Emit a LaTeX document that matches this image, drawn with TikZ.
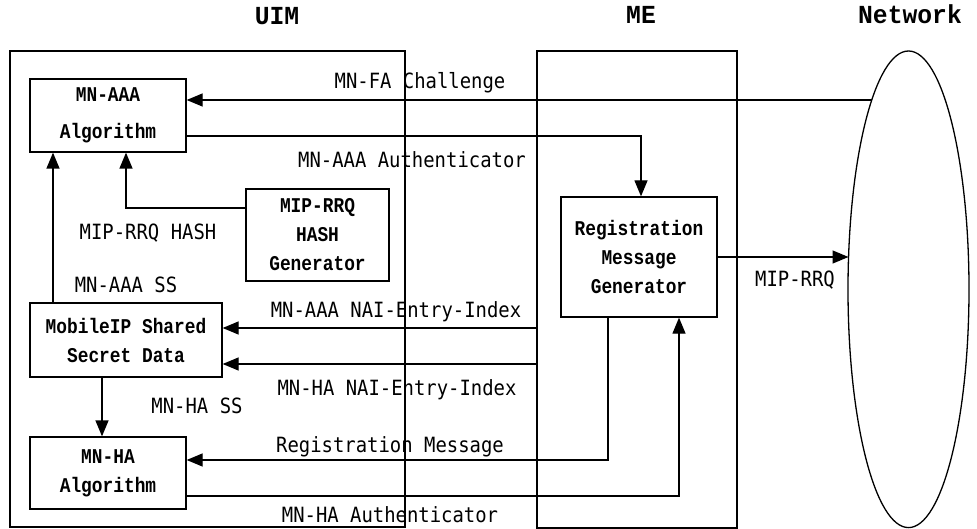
\documentclass[tikz,border=0pt]{standalone}
\usepackage{fontspec}
\newfontfamily\lblfont{DejaVu Sans Mono}[FakeStretch=0.9]
\newfontfamily\boxfont{Liberation Mono}[FakeStretch=0.85]
\newfontfamily\ttlfont{Liberation Mono}[FakeStretch=0.95]
\usetikzlibrary{arrows.meta,shapes.geometric}
\begin{document}
\begin{tikzpicture}[x=1pt,y=-1pt,line width=1.3pt,
  frame/.style={draw,inner sep=0pt,outer sep=0pt},
  box/.style={draw,inner sep=0pt,align=center,font={\boxfont\bfseries\fontsize{21}{29}\selectfont}},
  lbl/.style={anchor=base,inner sep=0pt,font={\lblfont\fontsize{21}{24}\selectfont}},
  ttl/.style={anchor=base,inner sep=0pt,font={\ttlfont\bfseries\fontsize{26}{30}\selectfont}},
  arr/.style={-{Triangle[length=16pt,width=13pt]}}]
\useasboundingbox (0,0) rectangle (977,529);
% titles
\node[ttl] (tuim) at (277,25) {UIM};
\node[ttl] (tme) at (641,24) {ME};
\node[ttl] (tnet) at (910,24) {Network};
% frames
\node[frame,minimum width=395pt,minimum height=476pt] (uim) at (207.5,289) {};
\node[frame,minimum width=200pt,minimum height=477pt] (me) at (637,289.5) {};
\node[frame,ellipse,minimum width=121pt,minimum height=476.6pt] (net) at (908.5,289.3) {};
% boxes
\node[box,minimum width=156pt,minimum height=73pt,font={\boxfont\bfseries\fontsize{21}{37}\selectfont}] (aaa) at (108,115.5) {MN-AAA\\Algorithm};
\node[box,minimum width=143pt,minimum height=92pt] (hash) at (317.5,235) {MIP-RRQ\\HASH\\Generator};
\node[box,minimum width=192pt,minimum height=74pt] (ss) at (126,340) {MobileIP Shared\\Secret Data};
\node[box,minimum width=156pt,minimum height=72pt] (ha) at (108,473) {MN-HA\\Algorithm};
\node[box,minimum width=156pt,minimum height=120pt] (reg) at (639,257) {Registration\\Message\\Generator};
% helper coordinates on the ellipse border
\coordinate (fa) at (871.8,100);
\coordinate (rrq) at (848.5,257);
\coordinate (n1) at ([yshift=12pt]ss.east);
\coordinate (n2) at ([yshift=-24pt]ss.east);
\coordinate (p1) at ([xshift=-73pt]ss.north);
% connectors
\draw[arr] (fa) -- (fa -| aaa.east);
\draw[arr] ([yshift=-20.5pt]aaa.east) -| ([xshift=2pt]reg.north);
\draw[arr] ([yshift=27pt]hash.west) -| ([xshift=18pt]aaa.south);
\draw[arr] (p1) -- (p1 |- aaa.south);
\draw[arr] (me.west |- n1) -- (n1);
\draw[arr] (me.west |- n2) -- (n2);
\draw[arr] ([xshift=-24pt]ss.south) -- ([xshift=-6pt]ha.north);
\draw[arr] ([xshift=-31pt]reg.south) |- ([yshift=13pt]ha.east);
\draw[arr] ([yshift=-23pt]ha.east) -| ([xshift=40pt]reg.south);
\draw[arr] (reg.east) -- (rrq);
% labels
\node[lbl] (l1) at (420,89) {MN-FA Challenge};
\node[lbl] (l2) at (412,168) {MN-AAA Authenticator};
\node[lbl] (l3) at (148,240) {MIP-RRQ HASH};
\node[lbl] (l4) at (126,293) {MN-AAA SS};
\node[lbl] (l5) at (795,287) {MIP-RRQ};
\node[lbl] (l6) at (396,317) {MN-AAA NAI-Entry-Index};
\node[lbl] (l7) at (397,395) {MN-HA NAI-Entry-Index};
\node[lbl] (l8) at (197,413) {MN-HA SS};
\node[lbl] (l9) at (390,452) {Registration Message};
\node[lbl] (l10) at (390,522) {MN-HA Authenticator};
\end{tikzpicture}
\end{document}
